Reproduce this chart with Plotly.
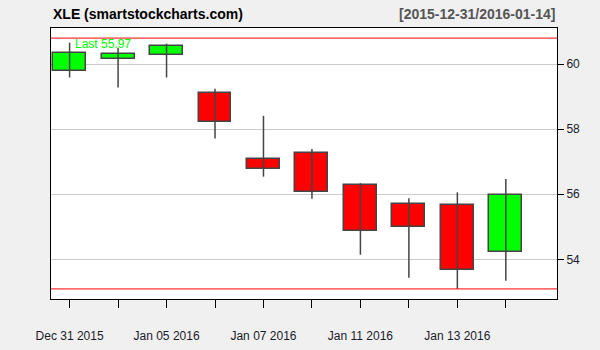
import plotly.graph_objects as go

dates = ["2015-12-31", "2016-01-04", "2016-01-05", "2016-01-06", "2016-01-07",
         "2016-01-08", "2016-01-11", "2016-01-12", "2016-01-13", "2016-01-14"]
tick_labels = ["Dec 31 2015", "", "Jan 05 2016", "", "Jan 07 2016", "",
               "Jan 11 2016", "", "Jan 13 2016", ""]
opens = [59.79, 60.15, 60.28, 59.11, 57.08, 57.26, 56.28, 55.69, 55.66, 54.23]
highs = [60.66, 60.50, 60.63, 59.24, 58.41, 57.39, 56.34, 55.88, 56.06, 56.47]
lows = [59.59, 59.28, 59.59, 57.71, 56.54, 55.86, 54.14, 53.43, 53.09, 53.34]
closes = [60.34, 60.32, 60.55, 58.22, 56.77, 56.06, 54.86, 54.99, 53.67, 55.97]
range_lines = [60.80, 53.09]
y_ticks = [54, 56, 58, 60]

idx = list(range(len(dates)))
up_color = "#00ff00"
down_color = "#ff0000"
edge = "#444444"

fig = go.Figure()

# wicks
wx, wy = [], []
for i, (h, l) in enumerate(zip(highs, lows)):
    wx += [i, i, None]
    wy += [l, h, None]
fig.add_trace(go.Scatter(x=wx, y=wy, mode="lines", line=dict(color=edge, width=1.5),
                         showlegend=False, hoverinfo="skip"))

# bodies
bases = [min(o, c) for o, c in zip(opens, closes)]
heights = [abs(c - o) for o, c in zip(opens, closes)]
colors = [up_color if c >= o else down_color for o, c in zip(opens, closes)]
fig.add_trace(go.Bar(x=idx, y=heights, base=bases, width=0.68,
                     marker=dict(color=colors, line=dict(color=edge, width=1.5)),
                     showlegend=False, hoverinfo="skip"))

for v in range_lines:
    fig.add_shape(type="line", xref="paper", x0=0, x1=1, yref="y", y0=v, y1=v,
                  line=dict(color="#ff0000", width=1))

fig.add_annotation(text="Last %.2f" % closes[-1], xref="paper", x=0.043, yref="y",
                   y=60.63, xanchor="left", yanchor="middle", showarrow=False,
                   font=dict(color="#00ff00", size=12, family="Liberation Sans"))
fig.add_annotation(text="<b>XLE (smartstockcharts.com)</b>", xref="paper", x=0,
                   yref="paper", y=1.05, xanchor="left", yanchor="middle",
                   showarrow=False, font=dict(color="#000000", size=14,
                                              family="Liberation Sans"))
fig.add_annotation(text="<b>[%s/%s]</b>" % (dates[0], dates[-1]), xref="paper", x=1,
                   yref="paper", y=1.05, xanchor="right", yanchor="middle",
                   showarrow=False, font=dict(color="#555555", size=14,
                                              family="Liberation Sans"))

fig.update_layout(
    width=600, height=350,
    margin=dict(l=51, r=43, t=28, b=51),
    paper_bgcolor="#f0f0f0", plot_bgcolor="#ffffff",
    font=dict(family="Liberation Sans", size=12, color="#1a1a2a"),
    bargap=0,
    xaxis=dict(
        range=[-0.384, 10.056], tickmode="array", tickvals=idx, ticktext=tick_labels,
        showgrid=False, zeroline=False, showline=True, mirror=True,
        linecolor="#000000", linewidth=1, ticks="outside", ticklen=8,
        tickcolor="#000000", ticklabelstandoff=18, automargin=False,
    ),
    yaxis=dict(
        range=[52.78, 61.11], side="right", tickmode="array", tickvals=y_ticks,
        showgrid=True, gridcolor="#cccccc", gridwidth=1, zeroline=False,
        showline=True, mirror=True, linecolor="#000000", linewidth=1,
        ticks="outside", ticklen=6, tickcolor="#000000", automargin=False,
    ),
)

fig.write_html("out.html")
